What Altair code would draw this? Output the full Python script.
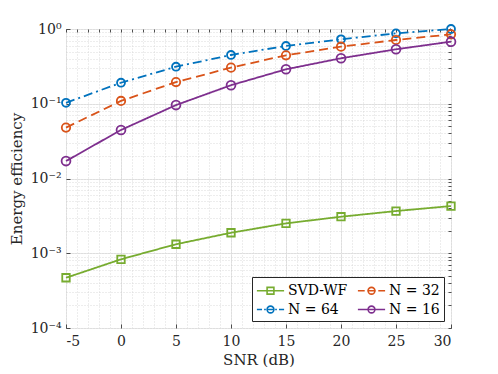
import altair as alt
import pandas as pd

snr = [-5, 0, 5, 10, 15, 20, 25, 30]
series = ["SVD-WF", "N = 64", "N = 32", "N = 16"]
svd_wf = [4.7e-4, 8.3e-4, 1.32e-3, 1.88e-3, 2.51e-3, 3.08e-3, 3.67e-3, 4.28e-3]
n64 = [0.103, 0.191, 0.313, 0.449, 0.593, 0.728, 0.875, 1.0]
n32 = [0.048, 0.109, 0.195, 0.304, 0.445, 0.580, 0.713, 0.849]
n16 = [0.0171, 0.0446, 0.096, 0.177, 0.289, 0.406, 0.535, 0.677]

colors = ["#77AC30", "#0072BD", "#D95319", "#7E2F8E"]
dashes = [[1, 0], [9, 4, 2, 4], [9, 5], [1, 0]]
marker_shapes = ["square", "circle", "circle", "circle"]
circ = "M0.4,0A0.4,0.4 0 1,1 -0.4,0A0.4,0.4 0 1,1 0.4,0Z"
legend_paths = [
    "M-1.6,0H1.6M-0.4,-0.4H0.4V0.4H-0.4Z",
    "M-1.6,0H-1.0M-0.75,0H-0.55M-0.4,0H0.4M0.55,0H0.75M1.0,0H1.6" + circ,
    "M-1.6,0H-0.8M-0.5,0H0.5M0.8,0H1.6" + circ,
    "M-1.6,0H1.6" + circ,
]

rows = []
for name, vals in zip(series, [svd_wf, n64, n32, n16]):
    for s, v in zip(snr, vals):
        rows.append({"SNR": s, "EE": v, "series": name})
df = pd.DataFrame(rows)

FONT = "DejaVu Serif"
xs = alt.Scale(domain=[-5, 30], nice=False, zero=False)
ys = alt.Scale(type="log", domain=[1e-4, 1], nice=False)
cs = alt.Scale(domain=series, range=colors)

major_x = [-5, 0, 5, 10, 15, 20, 25, 30]
all_x = list(range(-5, 31))
major_y = [1e-4, 1e-3, 1e-2, 1e-1, 1]
all_y = [m * 10 ** e for e in range(-4, 0) for m in range(1, 10)] + [1]

ylab = ("datum.value > 0.5 ? '10⁰' : datum.value > 0.05 ? '10⁻¹' : "
        "datum.value > 0.005 ? '10⁻²' : datum.value > 0.0005 ? '10⁻³' : '10⁻⁴'")

TICK = "#262626"
base = alt.Chart(df)

lines = base.mark_line(strokeWidth=1.8).encode(
    x=alt.X("SNR:Q", scale=xs, axis=alt.Axis(
        values=major_x, title="SNR (dB)", labelExpr="toString(datum.value)",
        grid=True, gridColor="#e6e6e6", gridWidth=1, domain=False,
        ticks=True, tickSize=4, tickColor=TICK, tickWidth=0.8, offset=-4,
        labelFont=FONT, labelFontSize=14, labelColor="#262626", labelPadding=6,
        titleFont=FONT, titleFontSize=15, titleFontWeight="normal", titleColor="#262626",
        titlePadding=4)),
    y=alt.Y("EE:Q", scale=ys, axis=alt.Axis(
        values=major_y, title="Energy efficiency", labelExpr=ylab,
        grid=True, gridColor="#e6e6e6", gridWidth=1, domain=False,
        ticks=True, tickSize=4, tickColor=TICK, tickWidth=0.8, offset=-4,
        labelFont=FONT, labelFontSize=14, labelColor="#262626", labelPadding=5,
        titleFont=FONT, titleFontSize=15, titleFontWeight="normal", titleColor="#262626",
        titlePadding=6)),
    color=alt.Color("series:N", scale=cs, legend=None),
    strokeDash=alt.StrokeDash("series:N", scale=alt.Scale(domain=series, range=dashes), legend=None),
    detail="series:N",
)

points = base.mark_point(filled=False, strokeWidth=1.8, opacity=1).encode(
    x=alt.X("SNR:Q", scale=xs, axis=alt.Axis(
        orient="top", values=all_x, labels=False, domain=False, title=None,
        ticks=True, tickSize=3, tickColor=TICK, tickWidth=0.8, offset=-3,
        grid=True, gridColor="#d0d0d0", gridDash=[1, 2], gridWidth=0.8)),
    y=alt.Y("EE:Q", scale=ys, axis=alt.Axis(
        orient="right", values=all_y, labels=False, domain=False, title=None,
        ticks=True, tickSize=3, tickColor=TICK, tickWidth=0.8, offset=-3,
        grid=True, gridColor="#d0d0d0", gridDash=[1, 2], gridWidth=0.8)),
    color=alt.Color("series:N", scale=cs, legend=None),
    shape=alt.Shape("series:N", scale=alt.Scale(domain=series, range=marker_shapes), legend=None),
    size=alt.Size("series:N", scale=alt.Scale(domain=series, range=[56, 78, 78, 78]), legend=None),
)

leg = alt.Legend(
    title=None, orient="bottom-right", columns=2, offset=7, padding=4,
    strokeColor="#262626", fillColor="white", symbolSize=289, symbolStrokeWidth=1.6,
    symbolFillColor="transparent", symbolOpacity=1, labelFont=FONT, labelFontSize=14,
    labelColor="#000000", columnPadding=6, rowPadding=2, labelOffset=8,
    symbolOffset=5, cornerRadius=0,
)

legend_layer = base.mark_point(filled=False, opacity=0).encode(
    x=alt.X("SNR:Q", scale=xs, axis=None),
    y=alt.Y("EE:Q", scale=ys, axis=None),
    color=alt.Color("series:N", scale=cs, legend=leg, sort=series),
    shape=alt.Shape("series:N", scale=alt.Scale(domain=series, range=legend_paths), legend=leg, sort=series),
)

chart = alt.layer(lines, points, legend_layer).resolve_scale(
    color="independent", shape="independent", size="independent", strokeDash="independent"
).resolve_axis(x="independent", y="independent").properties(
    width=385, height=299,
    padding={"left": 1, "top": 13, "right": 5, "bottom": 0},
).configure(font=FONT).configure_axis(labelFont=FONT, titleFont=FONT).configure_legend(
    labelFont=FONT
).configure_view(stroke="#262626", strokeWidth=1)

chart.save("out.html", embed_options={"renderer": "svg", "actions": False})
